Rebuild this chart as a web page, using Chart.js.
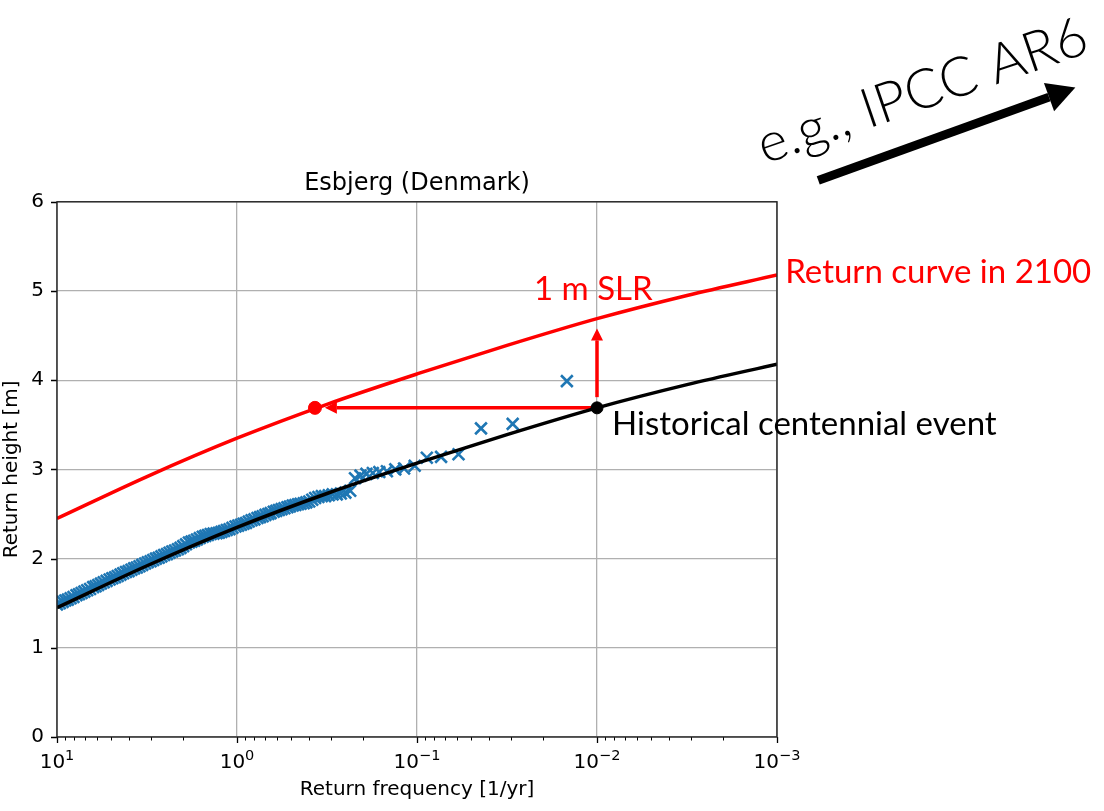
<!DOCTYPE html>
<html>
<head>
<meta charset="utf-8">
<title>Esbjerg return curve</title>
<script src="https://cdn.jsdelivr.net/npm/chart.js@4.4.1/dist/chart.umd.min.js"></script>
<style>
    html, body { margin: 0; padding: 0; background: #fff; }
    #wrap { position: relative; width: 1104px; height: 811px; }
</style>
</head>
<body>
<div id="wrap"><canvas id="returnChart"></canvas></div>
<script>
// Return curves: frequency [1/yr] -> height [m]
const curveFreq = [10, 3.1623, 1, 0.31623, 0.1, 0.031623, 0.01, 0.0031623, 0.001];
const historicalCurve = [1.45, 1.92, 2.35, 2.73, 3.07, 3.39, 3.69, 3.95, 4.18];
const curve2100 = [2.45, 2.92, 3.35, 3.73, 4.07, 4.39, 4.69, 4.95, 5.18];

// Observed extremes (empirical return frequency, height)
const obsFreq = [10, 9.65, 9.3, 9.0, 8.7, 8.4, 8.1, 7.8, 7.55, 7.3,
    7.05, 6.8, 6.55, 6.3, 6.1, 5.9, 5.7, 5.5, 5.3, 5.1,
    4.93, 4.76, 4.6, 4.44, 4.29, 4.14, 4.0, 3.86, 3.73, 3.6,
    3.48, 3.36, 3.24, 3.13, 3.02, 2.92, 2.82, 2.72, 2.63, 2.54,
    2.45, 2.37, 2.29, 2.21, 2.13, 2.06, 1.99, 1.92, 1.85, 1.79,
    1.73, 1.67, 1.61, 1.55, 1.5, 1.45, 1.4, 1.35, 1.3, 1.26,
    1.22, 1.18, 1.14, 1.1, 1.06, 1.02, 0.985, 0.95, 0.92, 0.89,
    0.86, 0.83, 0.8, 0.77, 0.745, 0.72, 0.695, 0.67, 0.65, 0.625,
    0.605, 0.585, 0.565, 0.545, 0.525, 0.508, 0.49, 0.474, 0.458, 0.443,
    0.426, 0.412, 0.397, 0.382, 0.368, 0.353, 0.338, 0.324, 0.309, 0.294,
    0.279, 0.265, 0.25, 0.235, 0.221, 0.206, 0.191, 0.176, 0.162, 0.147,
    0.132, 0.118, 0.103, 0.0882, 0.0735, 0.0588, 0.0441, 0.0294, 0.0147];
const obsHeight = [1.485, 1.50, 1.515, 1.53, 1.54, 1.555, 1.57, 1.59, 1.60, 1.615,
    1.63, 1.645, 1.66, 1.68, 1.69, 1.705, 1.72, 1.735, 1.75, 1.765,
    1.78, 1.79, 1.805, 1.82, 1.835, 1.85, 1.86, 1.875, 1.89, 1.90,
    1.915, 1.93, 1.945, 1.96, 1.97, 1.985, 2.00, 2.01, 2.025, 2.04,
    2.05, 2.065, 2.08, 2.09, 2.105, 2.12, 2.14, 2.16, 2.18, 2.19,
    2.20, 2.215, 2.23, 2.245, 2.255, 2.265, 2.275, 2.28, 2.285, 2.29,
    2.30, 2.31, 2.32, 2.33, 2.345, 2.36, 2.37, 2.38, 2.39, 2.40,
    2.415, 2.43, 2.44, 2.455, 2.465, 2.475, 2.49, 2.50, 2.51, 2.525,
    2.535, 2.545, 2.555, 2.565, 2.575, 2.585, 2.595, 2.60, 2.61, 2.615,
    2.62, 2.63, 2.64, 2.66, 2.68, 2.69, 2.70, 2.70, 2.71, 2.72,
    2.72, 2.73, 2.74, 2.76, 2.90, 2.93, 2.95, 2.96, 2.97, 2.98,
    3.00, 3.01, 3.04, 3.13, 3.14, 3.17, 3.46, 3.51, 3.99];

// Centennial event today and its frequency in 2100
const centennialFreq = 0.01;
const centennialHeight = 3.69;
const futureFreq = 0.369;

// Axes
const xTicks = [10, 1, 0.1, 0.01, 0.001];
const xTickExponents = ['1', '0', '\u22121', '\u22122', '\u22123'];
const yTicks = [0, 1, 2, 3, 4, 5, 6];

// Arrows (data coordinates)
const shiftArrow = { from: [0.0106, 3.69], to: [0.325, 3.69] };
const slrArrow = { from: [0.01, 3.81], to: [0.01, 4.58] };
const ipccArrow = { from: [5.9e-4, 6.24], to: [2.2e-5, 7.28] };

const noteFont = 'Lato, "Open Sans", sans-serif';
const notes = [
    { text: '1 m SLR', freq: 0.0224, height: 4.90, color: '#ff0000', size: 33, weight: 400 },
    { text: 'Return curve in 2100', freq: 0.0009, height: 5.09, color: '#ff0000', size: 33, weight: 400 },
    { text: 'Historical centennial event', freq: 0.00825, height: 3.385, color: '#000000', size: 33, weight: 400 }
];
const ipccNote = { text: 'e.g., IPCC AR6', freq: 1.56e-4, height: 7.24, angle: -19, size: 55, weight: 300 };

const toPoints = (xs, ys) => xs.map((x, i) => ({ x: x, y: ys[i] }));

function drawArrow(ctx, x0, y0, x1, y1, width, headLen, headHalf, color) {
    const ang = Math.atan2(y1 - y0, x1 - x0);
    const bx = x1 - Math.cos(ang) * headLen;
    const by = y1 - Math.sin(ang) * headLen;
    ctx.save();
    ctx.strokeStyle = color;
    ctx.fillStyle = color;
    ctx.lineWidth = width;
    ctx.beginPath();
    ctx.moveTo(x0, y0);
    ctx.lineTo(bx, by);
    ctx.stroke();
    ctx.beginPath();
    ctx.moveTo(x1, y1);
    ctx.lineTo(bx - Math.sin(ang) * headHalf, by + Math.cos(ang) * headHalf);
    ctx.lineTo(bx + Math.sin(ang) * headHalf, by - Math.cos(ang) * headHalf);
    ctx.closePath();
    ctx.fill();
    ctx.restore();
}

const annotationPlugin = {
    id: 'annotations',
    beforeDatasetsDraw(chart) {
        const { ctx, scales: { x, y } } = chart;
        [shiftArrow, slrArrow].forEach(a => {
            drawArrow(ctx,
                x.getPixelForValue(a.from[0]), y.getPixelForValue(a.from[1]),
                x.getPixelForValue(a.to[0]), y.getPixelForValue(a.to[1]),
                3.5, 12, 6, '#ff0000');
        });
    },
    afterDraw(chart) {
        const { ctx, chartArea: area, scales: { x, y } } = chart;

        // Major and minor tick marks
        ctx.save();
        ctx.strokeStyle = '#000';
        ctx.lineWidth = 1.3;
        ctx.beginPath();
        xTicks.forEach(v => {
            const px = Math.round(x.getPixelForValue(v)) + 0.5;
            ctx.moveTo(px, area.bottom);
            ctx.lineTo(px, area.bottom + 6);
        });
        yTicks.forEach(v => {
            const py = Math.round(y.getPixelForValue(v)) + 0.5;
            ctx.moveTo(area.left, py);
            ctx.lineTo(area.left - 6, py);
        });
        ctx.stroke();
        ctx.lineWidth = 1;
        ctx.beginPath();
        for (let e = -3; e <= 0; e++) {
            for (let m = 2; m <= 9; m++) {
                const px = Math.round(x.getPixelForValue(m * Math.pow(10, e))) + 0.5;
                ctx.moveTo(px, area.bottom);
                ctx.lineTo(px, area.bottom + 3.5);
            }
        }
        ctx.stroke();

        // Frame
        ctx.strokeStyle = '#222';
        ctx.lineWidth = 1.4;
        ctx.strokeRect(area.left, area.top, area.right - area.left, area.bottom - area.top);

        // x tick labels: 10 with a raised exponent
        ctx.fillStyle = '#000';
        ctx.textBaseline = 'alphabetic';
        ctx.textAlign = 'left';
        const baseFont = '20px "DejaVu Sans", sans-serif';
        const expFont = '14.5px "DejaVu Sans", sans-serif';
        xTicks.forEach((v, i) => {
            ctx.font = baseFont;
            const wBase = ctx.measureText('10').width;
            ctx.font = expFont;
            const wExp = ctx.measureText(xTickExponents[i]).width;
            const left = x.getPixelForValue(v) - (wBase + wExp) / 2;
            const baseline = area.bottom + 31;
            ctx.font = baseFont;
            ctx.fillText('10', left, baseline);
            ctx.font = expFont;
            ctx.fillText(xTickExponents[i], left + wBase, baseline - 8);
        });
        ctx.restore();

        // Text notes
        notes.forEach(n => {
            ctx.save();
            ctx.font = `${n.weight} ${n.size}px ${noteFont}`;
            ctx.fillStyle = n.color;
            ctx.textAlign = 'left';
            ctx.textBaseline = 'alphabetic';
            ctx.fillText(n.text, x.getPixelForValue(n.freq), y.getPixelForValue(n.height));
            ctx.restore();
        });

        // IPCC note and arrow
        ctx.save();
        ctx.translate(x.getPixelForValue(ipccNote.freq), y.getPixelForValue(ipccNote.height));
        ctx.rotate(ipccNote.angle * Math.PI / 180);
        ctx.font = `${ipccNote.weight} ${ipccNote.size}px ${noteFont}`;
        ctx.fillStyle = '#000';
        ctx.textAlign = 'center';
        ctx.textBaseline = 'middle';
        ctx.fillText(ipccNote.text, 0, 0);
        ctx.restore();
        drawArrow(ctx,
            x.getPixelForValue(ipccArrow.from[0]), y.getPixelForValue(ipccArrow.from[1]),
            x.getPixelForValue(ipccArrow.to[0]), y.getPixelForValue(ipccArrow.to[1]),
            9, 28, 15, '#000');
    }
};

Chart.defaults.font.family = '"DejaVu Sans", sans-serif';
Chart.defaults.color = '#000';

const ctx = document.getElementById('returnChart').getContext('2d');
const returnChart = new Chart(ctx, {
    type: 'scatter',
    data: {
        datasets: [
            {
                label: 'Historical centennial event',
                data: [{ x: centennialFreq, y: centennialHeight }],
                backgroundColor: '#000',
                borderColor: '#000',
                pointRadius: 6
            },
            {
                label: '2100 equivalent',
                data: [{ x: futureFreq, y: centennialHeight }],
                backgroundColor: '#ff0000',
                borderColor: '#ff0000',
                pointRadius: 6.5
            },
            {
                label: 'Historical return curve',
                data: toPoints(curveFreq, historicalCurve),
                showLine: true,
                borderColor: '#000',
                borderWidth: 3.5,
                pointRadius: 0,
                cubicInterpolationMode: 'monotone'
            },
            {
                label: 'Return curve in 2100',
                data: toPoints(curveFreq, curve2100),
                showLine: true,
                borderColor: '#ff0000',
                borderWidth: 3.5,
                pointRadius: 0,
                cubicInterpolationMode: 'monotone'
            },
            {
                label: 'Observations',
                data: toPoints(obsFreq, obsHeight),
                pointStyle: 'crossRot',
                pointRadius: 8.3,
                borderWidth: 2.6,
                borderColor: '#1f77b4',
                backgroundColor: '#1f77b4'
            }
        ]
    },
    options: {
        responsive: true,
        maintainAspectRatio: false,
        animation: false,
        devicePixelRatio: 1,
        layout: {
            padding: { top: 169, right: 327, bottom: 0, left: 0 }
        },
        scales: {
            x: {
                type: 'logarithmic',
                reverse: true,
                min: 0.001,
                max: 10,
                afterBuildTicks: (scale) => { scale.ticks = xTicks.map(v => ({ value: v })); },
                afterFit: (scale) => { scale.height = 74; },
                ticks: { display: false, autoSkip: false },
                grid: { color: '#b0b0b0', lineWidth: 1.3, drawTicks: false },
                border: { display: false },
                title: {
                    display: true,
                    text: 'Return frequency [1/yr]',
                    font: { size: 20 },
                    padding: { top: 0, bottom: 9 }
                }
            },
            y: {
                min: 0,
                max: 6,
                afterBuildTicks: (scale) => { scale.ticks = yTicks.map(v => ({ value: v })); },
                afterFit: (scale) => { scale.width = 57; },
                ticks: {
                    padding: 13,
                    font: { size: 20 }
                },
                grid: { color: '#b0b0b0', lineWidth: 1.3, drawTicks: false },
                border: { display: false },
                title: {
                    display: true,
                    text: 'Return height [m]',
                    font: { size: 20 },
                    padding: { top: 0, bottom: 0 }
                }
            }
        },
        plugins: {
            legend: { display: false },
            tooltip: { enabled: false },
            title: {
                display: true,
                text: 'Esbjerg (Denmark)',
                fullSize: false,
                font: { size: 24, weight: 'normal' },
                padding: { top: 0, bottom: 4 }
            }
        }
    },
    plugins: [annotationPlugin]
});
</script>
</body>
</html>
